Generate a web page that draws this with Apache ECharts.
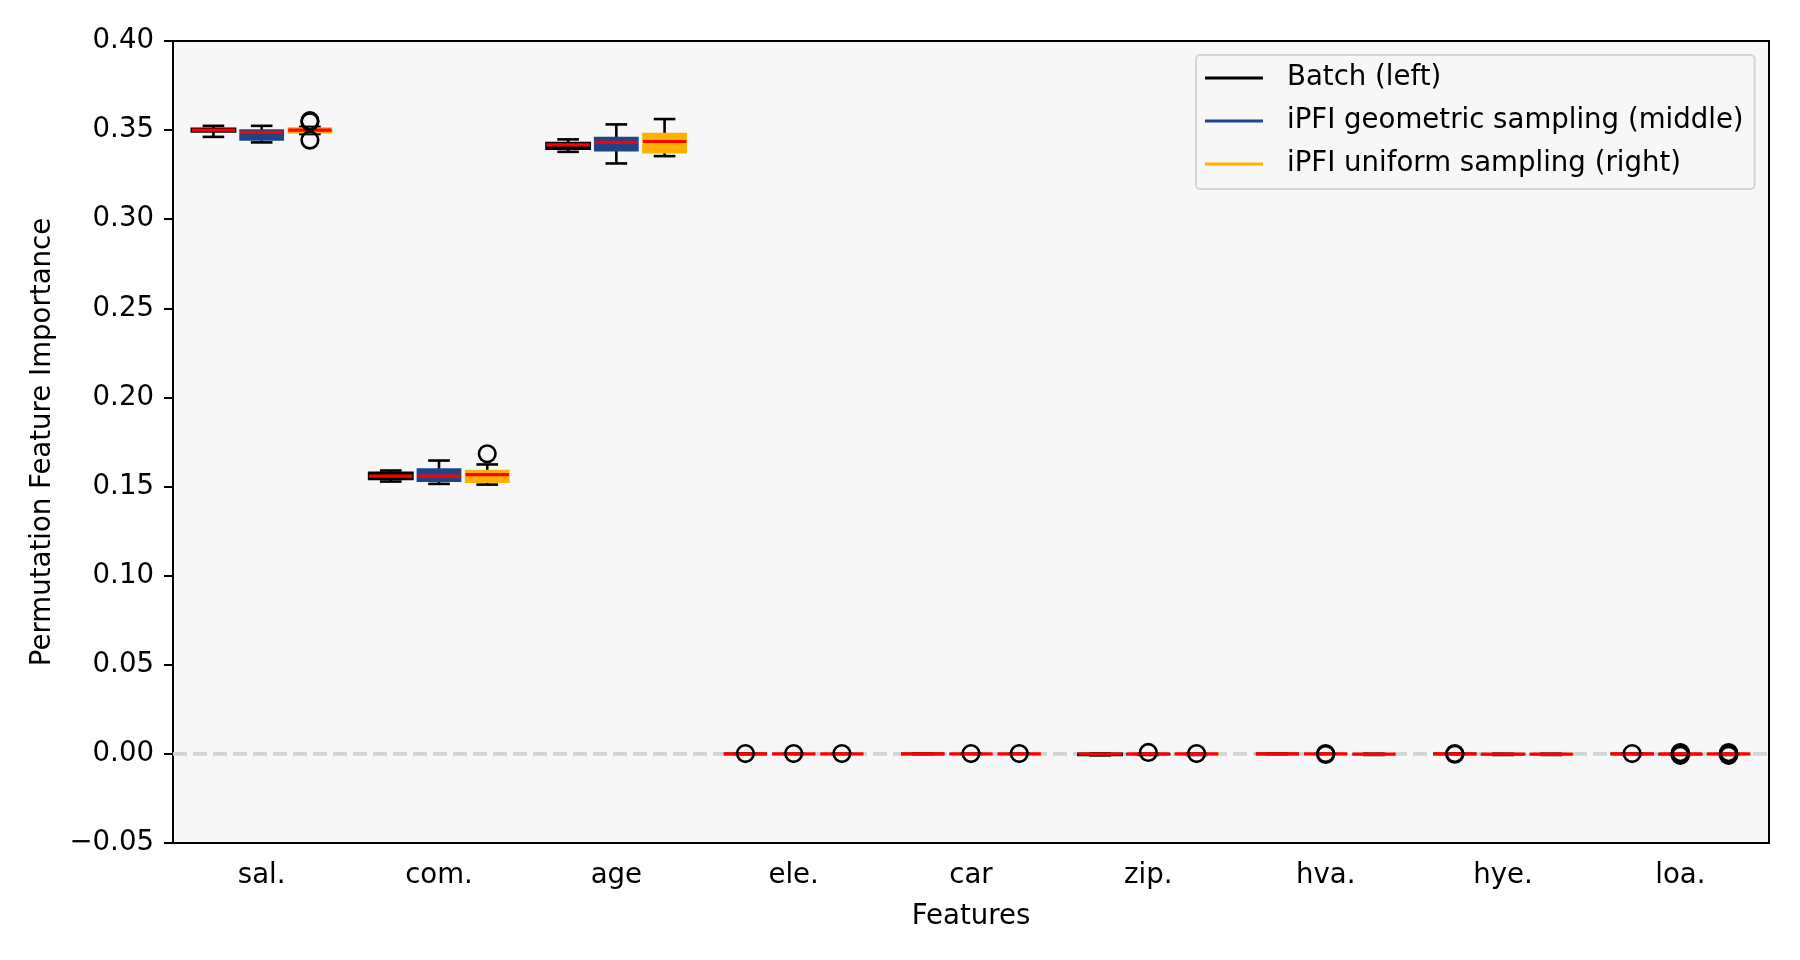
<!DOCTYPE html>
<html>
<head>
<meta charset="utf-8">
<script src="https://cdn.jsdelivr.net/npm/echarts@6/dist/echarts.min.js"></script>
<style>
html, body { margin: 0; padding: 0; background: #fff; }
#main { width: 1800px; height: 960px; }
</style>
</head>
<body>
<div id="main"></div>
<script>
// features on the x axis
var categories = ['sal.', 'com.', 'age', 'ele.', 'car', 'zip.', 'hva.', 'hye.', 'loa.'];
var seriesNames = ['Batch (left)', 'iPFI geometric sampling (middle)', 'iPFI uniform sampling (right)'];
var yTicks = [-0.05, 0.00, 0.05, 0.10, 0.15, 0.20, 0.25, 0.30, 0.35, 0.40];
var zeroLine = [[0, 0], [1, 0]];

// box stats per feature: [whisker low, q1, median, q3, whisker high]
var batchBox = [
  [0.3462, 0.3492, 0.3500, 0.3508, 0.3524],
  [0.1528, 0.1542, 0.1558, 0.1577, 0.1590],
  [0.3378, 0.3396, 0.3417, 0.3428, 0.3448],
  [0.0000, 0.0000, 0.0000, 0.0000, 0.0000],
  [-0.0001, 0.0000, 0.0000, 0.0000, 0.0001],
  [-0.0008, -0.0006, -0.0001, 0.0000, 0.0002],
  [-0.0001, 0.0000, 0.0000, 0.0000, 0.0001],
  [0.0000, 0.0000, 0.0000, 0.0000, 0.0000],
  [-0.0001, 0.0000, 0.0000, 0.0000, 0.0001]
];
var geoBox = [
  [0.3431, 0.3444, 0.3487, 0.3500, 0.3524],
  [0.1515, 0.1530, 0.1558, 0.1599, 0.1646],
  [0.3313, 0.3384, 0.3431, 0.3459, 0.3532],
  [0.0000, 0.0000, 0.0000, 0.0000, 0.0000],
  [0.0000, 0.0000, 0.0000, 0.0000, 0.0000],
  [-0.0006, -0.0005, 0.0000, 0.0001, 0.0002],
  [0.0000, 0.0000, 0.0000, 0.0000, 0.0000],
  [-0.0006, -0.0005, -0.0001, 0.0000, 0.0001],
  [-0.0006, -0.0005, 0.0000, 0.0000, 0.0001]
];
var uniformBox = [
  [0.3478, 0.3485, 0.3500, 0.3512, 0.3518],
  [0.1511, 0.1524, 0.1567, 0.1590, 0.1624],
  [0.3354, 0.3373, 0.3436, 0.3481, 0.3562],
  [0.0000, 0.0000, 0.0000, 0.0000, 0.0000],
  [0.0000, 0.0000, 0.0000, 0.0000, 0.0000],
  [-0.0006, -0.0005, 0.0000, 0.0001, 0.0002],
  [-0.0006, -0.0005, -0.0001, 0.0000, 0.0001],
  [-0.0006, -0.0005, -0.0001, 0.0000, 0.0001],
  [-0.0006, -0.0005, 0.0000, 0.0000, 0.0001]
];

// fliers: [feature index, value]
var batchOutliers = [[3, 0.0002], [7, 0.0002], [7, -0.0002], [8, 0.0002]];
var geoOutliers = [[3, 0.0002], [4, 0.0002], [5, 0.0008], [6, 0.0002], [6, -0.0003],
  [8, -0.0008], [8, -0.0004], [8, 0.0004], [8, 0.0007]];
var uniformOutliers = [[0, 0.3553], [0, 0.3547], [0, 0.3444], [1, 0.1684],
  [3, 0.0002], [4, 0.0002], [5, 0.0002], [8, -0.0008], [8, -0.0004], [8, 0.0003], [8, 0.0007]];

var boxColors = ['#000000', '#1f448a', '#ffb000'];
var medianColor = '#ff0000';
var FONT = 'DejaVu Sans';
var FS = 27.6;

function withIndex(stats) {
  return stats.map(function (s, i) { return [i].concat(s); });
}

function boxRenderer(slot) {
  return function (params, api) {
    var cat = api.value(0);
    var band = api.size([1, 0])[0];
    var x = api.coord([cat, 0])[0] + (slot - 1) * band * 0.272;
    var half = band * 0.122;
    var cap = half / 2;
    var y = [1, 2, 3, 4, 5].map(function (d) { return api.coord([cat, api.value(d)])[1]; });
    var ls = { stroke: '#000', lineWidth: 2.6 };
    var edge = slot === 0 ? 2.6 : 1.5;
    return {
      type: 'group',
      children: [
        { type: 'line', shape: { x1: x, y1: y[0], x2: x, y2: y[1] }, style: ls },
        { type: 'line', shape: { x1: x, y1: y[3], x2: x, y2: y[4] }, style: ls },
        { type: 'line', shape: { x1: x - cap, y1: y[0], x2: x + cap, y2: y[0] }, style: ls },
        { type: 'line', shape: { x1: x - cap, y1: y[4], x2: x + cap, y2: y[4] }, style: ls },
        { type: 'rect', shape: { x: x - half, y: y[3], width: half * 2, height: Math.max(y[1] - y[3], 0) },
          style: { fill: boxColors[slot], stroke: boxColors[slot], lineWidth: edge } },
        { type: 'line', shape: { x1: x - half, y1: y[2], x2: x + half, y2: y[2] },
          style: { stroke: medianColor, lineWidth: 3.2 } }
      ]
    };
  };
}

function flierRenderer(slot) {
  return function (params, api) {
    var cat = api.value(0);
    var band = api.size([1, 0])[0];
    var p = api.coord([cat, api.value(1)]);
    return {
      type: 'circle',
      shape: { cx: p[0] + (slot - 1) * band * 0.272, cy: p[1], r: 8.3 },
      style: { fill: 'none', stroke: '#000', lineWidth: 2.6 }
    };
  };
}

var boxData = [batchBox, geoBox, uniformBox];
var flierData = [batchOutliers, geoOutliers, uniformOutliers];

var series = [{
  type: 'line',
  xAxisIndex: 1,
  data: zeroLine,
  z: 1,
  silent: true,
  symbol: 'none',
  lineStyle: { color: '#d3d3d3', width: 3.8, type: [14, 6] }
}];
boxData.forEach(function (stats, k) {
  series.push({
    name: seriesNames[k],
    type: 'custom',
    z: 3,
    renderItem: boxRenderer(k),
    encode: { x: 0, y: [1, 2, 3, 4, 5] },
    data: withIndex(stats)
  });
});
flierData.forEach(function (pts, k) {
  series.push({
    name: seriesNames[k],
    type: 'custom',
    z: 4,
    renderItem: flierRenderer(k),
    encode: { x: 0, y: 1 },
    data: pts
  });
});

var option = {
  animation: false,
  backgroundColor: '#ffffff',
  textStyle: { fontFamily: FONT },
  grid: {
    left: 173, right: 31, top: 41, bottom: 117,
    show: true, backgroundColor: '#f7f7f7', borderColor: '#000', borderWidth: 2
  },
  legend: {
    orient: 'vertical',
    left: 1196, top: 55,
    padding: [9, 11, 11, 9],
    itemWidth: 58, itemHeight: 3, itemGap: 15,
    backgroundColor: '#f7f7f7',
    borderColor: '#d5d5d5', borderWidth: 2, borderRadius: 4,
    textStyle: { fontFamily: FONT, fontSize: FS, color: '#000', padding: [0, 0, 0, 19] },
    selectedMode: false,
    data: seriesNames.map(function (n, k) {
      return { name: n, icon: 'rect', itemStyle: { color: boxColors[k] } };
    })
  },
  xAxis: [{
    type: 'category',
    data: categories,
    boundaryGap: true,
    name: 'Features',
    nameLocation: 'middle',
    nameGap: 60,
    nameTextStyle: { fontFamily: FONT, fontSize: FS, color: '#000' },
    axisLine: { onZero: false, lineStyle: { color: '#000', width: 2 } },
    axisTick: { alignWithLabel: true, length: 9, lineStyle: { color: '#000', width: 2 } },
    axisLabel: { fontFamily: FONT, fontSize: FS, color: '#000', margin: 19 },
    splitLine: { show: false }
  }, {
    type: 'value',
    min: 0, max: 1,
    show: false
  }],
  yAxis: {
    type: 'value',
    min: yTicks[0],
    max: yTicks[yTicks.length - 1],
    interval: 0.05,
    name: 'Permutation Feature Importance',
    nameLocation: 'middle',
    nameRotate: 90,
    nameGap: 116,
    nameTextStyle: { fontFamily: FONT, fontSize: FS, color: '#000' },
    axisLine: { show: true, lineStyle: { color: '#000', width: 2 } },
    axisTick: { show: true, length: 9, lineStyle: { color: '#000', width: 2 } },
    axisLabel: {
      fontFamily: FONT, fontSize: FS, color: '#000', margin: 19,
      formatter: function (v) {
        var s = Math.abs(v).toFixed(2);
        return v < -1e-9 ? '\u2212' + s : s;
      }
    },
    splitLine: { show: false }
  },
  series: series
};

var myChart = echarts.init(document.getElementById('main'));
myChart.setOption(option);
</script>
</body>
</html>
